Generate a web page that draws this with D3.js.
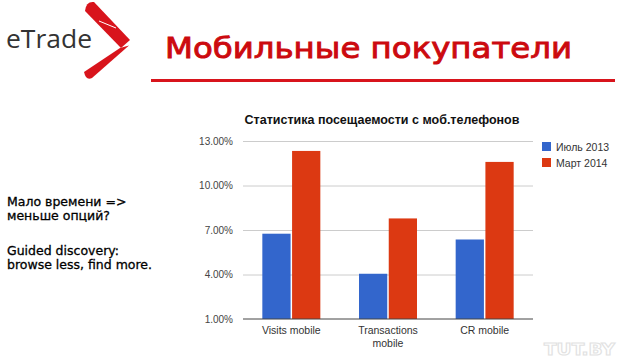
<!DOCTYPE html>
<html>
<head>
<meta charset="utf-8">
<script src="https://cdn.jsdelivr.net/npm/d3@7"></script>
<style>
  html, body { margin: 0; padding: 0; background: #fff; }
  svg { display: block; }
</style>
</head>
<body>
<div id="chart"></div>
<script>
// Chart data
const categories = [['Visits mobile'], ['Transactions', 'mobile'], ['CR mobile']];
const seriesNames = ['Июль 2013', 'Март 2014'];
const july2013 = [6.75, 4.05, 6.36];
const march2014 = [12.33, 7.78, 11.59];
const yTicks = [1, 4, 7, 10, 13];
const notes = ['Мало времени =>', 'меньше опций?', '', 'Guided discovery:', 'browse less, find more.'];

const colors = ['#3366cc', '#dc3912'];
const W = 620, H = 362;

const svg = d3.select('#chart').append('svg')
    .attr('width', W)
    .attr('height', H);

// Header: logo
svg.append('text')
    .attr('x', 6).attr('y', 48)
    .attr('font-family', 'Open Sans, sans-serif')
    .attr('font-size', 25)
    .attr('fill', '#333')
    .attr('textLength', 86)
    .attr('lengthAdjust', 'spacingAndGlyphs')
    .text('eTrade');

// chevron, two thick arms
svg.append('path')
    .attr('d', 'M85,11 Q86,1 94,2 L130,40 L121,48 Z')
    .attr('fill', '#d8141c');
svg.append('path')
    .attr('d', 'M120,48 L129,45.5 L92,78 Q86,81 84,72 Z')
    .attr('fill', '#d8141c');
// small notch in top arm
svg.append('line')
    .attr('x1', 99).attr('y1', 21).attr('x2', 116).attr('y2', 28)
    .attr('stroke', '#fff').attr('stroke-width', 1);

// Header: title and rule
svg.append('text')
    .attr('x', 165).attr('y', 58)
    .attr('font-family', 'DejaVu Sans, sans-serif')
    .attr('font-size', 28.5)
    .attr('fill', '#cc0a0f')
    .attr('stroke', '#cc0a0f')
    .attr('stroke-width', 0.9)
    .attr('textLength', 407)
    .attr('lengthAdjust', 'spacingAndGlyphs')
    .text('Мобильные покупатели');

svg.append('rect')
    .attr('x', 151).attr('y', 79)
    .attr('width', 464).attr('height', 3)
    .attr('fill', '#d8141c');

// Left notes
const noteY = [206, 220, 0, 255, 269];
notes.forEach((t, i) => {
    if (!t) return;
    svg.append('text')
        .attr('x', 7).attr('y', noteY[i])
        .attr('font-family', 'DejaVu Sans, sans-serif')
        .attr('font-size', 12.5)
        .attr('fill', '#000')
        .attr('stroke', '#000')
        .attr('stroke-width', 0.3)
        .text(t);
});

// Chart
const plot = { left: 243, right: 533, top: 141, bottom: 319 };

const y = d3.scaleLinear()
    .domain([1, 13])
    .range([plot.bottom, plot.top]);

const x0 = d3.scaleBand()
    .domain(d3.range(categories.length))
    .range([plot.left, plot.right])
    .paddingInner(0.4)
    .paddingOuter(0.2);

const x1 = d3.scaleBand()
    .domain(d3.range(seriesNames.length))
    .range([0, x0.bandwidth()])
    .paddingInner(0.05);

const g = svg.append('g');

// Chart title
g.append('text')
    .attr('x', 382).attr('y', 124)
    .attr('text-anchor', 'middle')
    .attr('font-family', 'Liberation Sans, Arial, sans-serif')
    .attr('font-weight', 'bold')
    .attr('font-size', 12.5)
    .attr('fill', '#111')
    .text('Статистика посещаемости с моб.телефонов');

// Grid lines
g.append('g')
    .attr('transform', `translate(${plot.left},0)`)
    .call(d3.axisLeft(y)
        .tickValues(yTicks.slice(1))
        .tickSize(-(plot.right - plot.left))
        .tickFormat(''))
    .call(a => a.select('.domain').remove())
    .call(a => a.selectAll('line').attr('stroke', '#cccccc'));

// Y axis labels
g.append('g')
    .attr('transform', `translate(${plot.left},0)`)
    .call(d3.axisLeft(y)
        .tickValues(yTicks)
        .tickSize(0)
        .tickPadding(10)
        .tickFormat(d => d.toFixed(2) + '%'))
    .call(a => a.select('.domain').remove())
    .call(a => a.selectAll('text')
        .attr('font-family', 'Liberation Sans, Arial, sans-serif')
        .attr('font-size', 10)
        .attr('fill', '#444'));

// Bars
const data = categories.map((c, i) => [july2013[i], march2014[i]]);
const groups = g.selectAll('.grp')
    .data(data)
    .enter()
    .append('g')
    .attr('transform', (d, i) => `translate(${x0(i)},0)`);

groups.selectAll('rect')
    .data(d => d)
    .enter()
    .append('rect')
    .attr('x', (d, j) => x1(j))
    .attr('width', x1.bandwidth())
    .attr('y', d => y(d))
    .attr('height', d => y(1) - y(d))
    .attr('fill', (d, j) => colors[j]);

// Baseline
g.append('line')
    .attr('x1', plot.left).attr('x2', plot.right)
    .attr('y1', y(1)).attr('y2', y(1))
    .attr('stroke', '#444').attr('stroke-width', 1);

// X labels
categories.forEach((lines, i) => {
    const t = g.append('text')
        .attr('text-anchor', 'middle')
        .attr('font-family', 'Liberation Sans, Arial, sans-serif')
        .attr('font-size', 10.5)
        .attr('fill', '#333');
    lines.forEach((l, k) => {
        t.append('tspan')
            .attr('x', x0(i) + x0.bandwidth() / 2)
            .attr('y', 334 + k * 13)
            .text(l);
    });
});

// Legend
seriesNames.forEach((s, i) => {
    const row = g.append('g')
        .attr('transform', `translate(542,${142 + i * 16})`);
    row.append('rect')
        .attr('width', 9).attr('height', 9)
        .attr('fill', colors[i]);
    row.append('text')
        .attr('x', 14).attr('y', 8.5)
        .attr('font-family', 'Liberation Sans, Arial, sans-serif')
        .attr('font-size', 10.5)
        .attr('fill', '#333')
        .text(s);
});

// Watermark
svg.append('text')
    .attr('x', 544).attr('y', 355)
    .attr('font-family', 'DejaVu Sans, sans-serif')
    .attr('font-weight', 'bold')
    .attr('font-size', 15)
    .attr('fill', '#fff')
    .attr('stroke', '#e2e2e2')
    .attr('stroke-width', 1)
    .attr('textLength', 71)
    .attr('lengthAdjust', 'spacingAndGlyphs')
    .text('TUT.BY');
</script>
</body>
</html>
